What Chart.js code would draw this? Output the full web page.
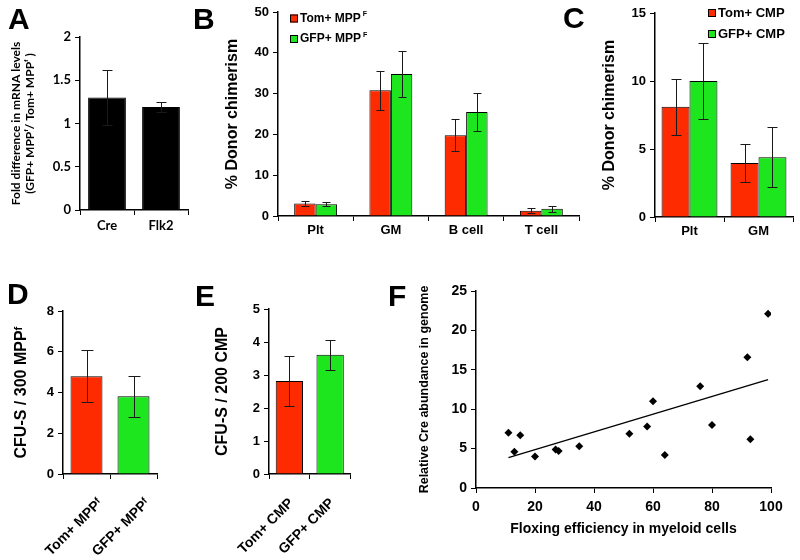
<!DOCTYPE html>
<html>
<head>
<meta charset="utf-8">
<script src="https://cdn.jsdelivr.net/npm/chart.js@4.4.0/dist/chart.umd.min.js"></script>
<style>
  html, body { margin:0; padding:0; background:#fff; }
  body { width:800px; height:560px; position:relative; overflow:hidden; }
  canvas { position:absolute; }
  .lbl { position:absolute; font-family:"Liberation Sans", Arial, sans-serif; font-weight:bold; font-size:30px; line-height:30px; color:#000; }
</style>
</head>
<body>
<canvas id="cA" width="200" height="260" style="left:0px;top:0px"></canvas>
<canvas id="cB" width="395" height="260" style="left:190px;top:0px"></canvas>
<canvas id="cC" width="215" height="260" style="left:585px;top:0px"></canvas>
<canvas id="cD" width="170" height="295" style="left:0px;top:265px"></canvas>
<canvas id="cE" width="190" height="295" style="left:170px;top:265px"></canvas>
<canvas id="cF" width="440" height="295" style="left:360px;top:265px"></canvas>
<div class="lbl" style="left:8px;top:4px">A</div>
<div class="lbl" style="left:193px;top:4px">B</div>
<div class="lbl" style="left:563px;top:3px">C</div>
<div class="lbl" style="left:7px;top:279px">D</div>
<div class="lbl" style="left:195px;top:281px">E</div>
<div class="lbl" style="left:388px;top:281px">F</div>
<script>
// ---------------- DATA ----------------
// Panel A
const aCategories = ['Cre', 'Flk2'];
const aValues = [1.3, 1.19];
const aErrors = [0.32, 0.06];

// Panel B
const bCategories = ['Plt', 'GM', 'B cell', 'T cell'];
const bSeries = ['Tom+ MPP', 'GFP+ MPP'];
const bTom = [3.05, 30.8, 19.8, 1.3];
const bTomErr = [0.7, 4.7, 3.9, 0.65];
const bGfp = [2.9, 34.8, 25.5, 1.8];
const bGfpErr = [0.55, 5.7, 4.6, 0.75];

// Panel C
const cCategories = ['Plt', 'GM'];
const cSeries = ['Tom+ CMP', 'GFP+ CMP'];
const cTom = [8.1, 3.97];
const cTomErr = [2.05, 1.4];
const cGfp = [10.0, 4.39];
const cGfpErr = [2.8, 2.2];

// Panel D
const dCategories = ['Tom+ MPP\u1DA0', 'GFP+ MPP\u1DA0'];
const dValues = [4.8, 3.82];
const dErrors = [1.27, 1.01];

// Panel E
const eCategories = ['Tom+ CMP', 'GFP+ CMP'];
const eValues = [2.82, 3.61];
const eErrors = [0.75, 0.45];

// Panel F
const fX = [11, 13, 15, 20, 27, 28, 35, 52, 58, 60, 64, 76, 80, 92, 93, 99];
const fY = [7.0, 4.6, 6.7, 4.0, 4.9, 4.7, 5.3, 6.9, 7.8, 11.0, 4.2, 12.9, 8.0, 16.6, 6.2, 22.1];
const fTrendX = [11, 99];
const fTrendY = [3.85, 13.75];

// ---------------- STYLE ----------------
const RED = '#FF2B00';
const GREEN = '#1EE61E';
const ARIAL = '"Liberation Sans", Arial, sans-serif';
const CALIBRI = 'Lato, "Open Sans", sans-serif';

const errorBars = {
  id: 'errorBars',
  afterDatasetsDraw(chart, args, o) {
    const ctx = chart.ctx;
    const y = chart.scales.y;
    const cap = (o && o.cap) || 4;
    chart.data.datasets.forEach((ds, di) => {
      if (!ds.errors) return;
      const meta = chart.getDatasetMeta(di);
      meta.data.forEach((bar, i) => {
        const v = ds.data[i], e = ds.errors[i];
        const top = Math.round(y.getPixelForValue(v + e)) + 0.5;
        const bot = Math.round(y.getPixelForValue(v - e)) + 0.5;
        const x = Math.round(bar.x) + 0.5;
        ctx.save();
        ctx.strokeStyle = '#1a1a1a';
        ctx.lineWidth = 1;
        ctx.beginPath();
        ctx.moveTo(x, top); ctx.lineTo(x, bot);
        ctx.moveTo(x - cap, top); ctx.lineTo(x + cap, top);
        ctx.moveTo(x - cap, bot); ctx.lineTo(x + cap, bot);
        ctx.stroke();
        ctx.restore();
      });
    });
  }
};

const boxLegend = {
  id: 'boxLegend',
  afterDraw(chart, args, o) {
    if (!o || !o.rows) return;
    const ctx = chart.ctx;
    chart.data.datasets.forEach((ds, i) => {
      const yc = o.rows[i];
      const s = o.size;
      ctx.save();
      ctx.fillStyle = ds.backgroundColor;
      ctx.fillRect(o.x, yc - s / 2, s, s);
      ctx.strokeStyle = '#000';
      ctx.lineWidth = 1;
      ctx.strokeRect(o.x + 0.5, yc - s / 2 + 0.5, s - 1, s - 1);
      ctx.font = 'bold ' + o.fontSize + 'px ' + ARIAL;
      ctx.fillStyle = '#000';
      ctx.textBaseline = 'middle';
      ctx.textAlign = 'left';
      const tx = o.x + s + o.gap;
      ctx.fillText(ds.label, tx, yc);
      if (o.sup) {
        const w = ctx.measureText(ds.label).width;
        ctx.font = 'bold ' + Math.round(o.fontSize * 0.62) + 'px ' + ARIAL;
        ctx.fillText(o.sup, tx + w + 2, yc - o.fontSize * 0.33);
      }
      ctx.restore();
    });
  }
};

function yAxis(p) {
  return {
    min: p.min, max: p.max,
    ticks: { stepSize: p.step, color: '#000', padding: 4, callback: v => String(v),
             font: { family: p.family || ARIAL, size: p.tickSize || 13, weight: 'bold' } },
    grid: { display: true, drawOnChartArea: false, drawTicks: true, tickLength: 5, color: '#000', lineWidth: 1 },
    border: { display: true, color: '#000', width: 1.5 },
    title: { display: true, text: p.title, color: '#000',
             font: { family: p.family || ARIAL, size: p.titleSize, weight: 'bold', lineHeight: p.lineHeight || 1.2 },
             padding: { top: p.titlePad, bottom: 0 } },
    afterFit(s) { s.width = p.width; }
  };
}

function xCat(p) {
  return {
    ticks: { color: '#000', padding: p.pad || 2, labelOffset: p.labelOffset || 0,
             minRotation: p.rot || 0, maxRotation: p.rot || 0, autoSkip: false,
             font: { family: p.family || ARIAL, size: p.size || 13, weight: 'bold' } },
    grid: { display: true, drawOnChartArea: false, drawTicks: true, tickLength: 5, color: '#000', lineWidth: 1, offset: true },
    border: { display: true, color: '#000', width: 1.5 },
    afterFit(s) { s.height = p.height; }
  };
}

function baseOpts(pad) {
  return {
    responsive: false, animation: false, devicePixelRatio: 1,
    layout: { padding: pad, autoPadding: false },
    plugins: { legend: { display: false }, tooltip: { enabled: false } }
  };
}

// ---------------- A ----------------
(function () {
  const o = baseOpts({ top: 37, right: 12, left: 0, bottom: 0 });
  o.scales = {
    x: xCat({ height: 50, family: CALIBRI, size: 13, pad: 3 }),
    y: yAxis({ min: 0, max: 2, step: 0.5, width: 80, family: CALIBRI, tickSize: 13,
               title: ['Fold difference in mRNA levels', '(GFP+ MPP\u1DA0/ Tom+ MPP\u1DA0 )'],
               titleSize: 12, lineHeight: 1.15, titlePad: 9 })
  };
  o.plugins.errorBars = { cap: 5 };
  new Chart(document.getElementById('cA'), {
    type: 'bar',
    data: { labels: aCategories, datasets: [{ data: aValues, errors: aErrors,
      backgroundColor: '#000', borderColor: '#000', borderWidth: 1,
      barPercentage: 0.7, categoryPercentage: 1 }] },
    options: o, plugins: [errorBars]
  });
})();

// ---------------- B ----------------
(function () {
  const o = baseOpts({ top: 12, right: 6, left: 0, bottom: 0 });
  o.scales = {
    x: xCat({ height: 44, size: 13, pad: 2 }),
    y: yAxis({ min: 0, max: 50, step: 10, width: 88, title: '% Donor chimerism', titleSize: 16, titlePad: 33 })
  };
  o.plugins.errorBars = { cap: 4 };
  o.plugins.boxLegend = { x: 100, rows: [18.5, 39], size: 8, gap: 2, fontSize: 12, sup: 'F' };
  new Chart(document.getElementById('cB'), {
    type: 'bar',
    data: { labels: bCategories, datasets: [
      { label: bSeries[0], data: bTom, errors: bTomErr, backgroundColor: RED, borderColor: '#000', borderWidth: 1,
        barPercentage: 1, categoryPercentage: 0.57 },
      { label: bSeries[1], data: bGfp, errors: bGfpErr, backgroundColor: GREEN, borderColor: '#000', borderWidth: 1,
        barPercentage: 1, categoryPercentage: 0.57 }
    ] },
    options: o, plugins: [errorBars, boxLegend]
  });
})();

// ---------------- C ----------------
(function () {
  const o = baseOpts({ top: 13, right: 7, left: 0, bottom: 0 });
  o.scales = {
    x: xCat({ height: 43, size: 13, pad: 2 }),
    y: yAxis({ min: 0, max: 15, step: 5, width: 70, title: '% Donor chimerism', titleSize: 16, titlePad: 15 })
  };
  o.plugins.errorBars = { cap: 5 };
  o.plugins.boxLegend = { x: 123, rows: [13, 34], size: 8, gap: 2, fontSize: 13 };
  new Chart(document.getElementById('cC'), {
    type: 'bar',
    data: { labels: cCategories, datasets: [
      { label: cSeries[0], data: cTom, errors: cTomErr, backgroundColor: RED, borderColor: '#000', borderWidth: 1,
        barPercentage: 1, categoryPercentage: 0.81 },
      { label: cSeries[1], data: cGfp, errors: cGfpErr, backgroundColor: GREEN, borderColor: '#000', borderWidth: 1,
        barPercentage: 1, categoryPercentage: 0.81 }
    ] },
    options: o, plugins: [errorBars, boxLegend]
  });
})();

// ---------------- D ----------------
(function () {
  const o = baseOpts({ top: 46, right: 13, left: 0, bottom: 0 });
  o.scales = {
    x: xCat({ height: 86, size: 14, pad: 16, rot: 45, labelOffset: 14 }),
    y: yAxis({ min: 0, max: 8, step: 2, width: 63, title: 'CFU-S / 300 MPP\u1DA0', titleSize: 16, titlePad: 12 })
  };
  o.plugins.errorBars = { cap: 6 };
  new Chart(document.getElementById('cD'), {
    type: 'bar',
    data: { labels: dCategories, datasets: [{ data: dValues, errors: dErrors,
      backgroundColor: [RED, GREEN], borderColor: '#000', borderWidth: 1,
      barPercentage: 0.68, categoryPercentage: 1 }] },
    options: o, plugins: [errorBars]
  });
})();

// ---------------- E ----------------
(function () {
  const o = baseOpts({ top: 44, right: 8, left: 0, bottom: 0 });
  o.scales = {
    x: xCat({ height: 86, size: 14, pad: 16, rot: 45, labelOffset: 2 }),
    y: yAxis({ min: 0, max: 5, step: 1, width: 99, title: 'CFU-S / 200 CMP', titleSize: 16, titlePad: 43 })
  };
  o.plugins.errorBars = { cap: 5 };
  new Chart(document.getElementById('cE'), {
    type: 'bar',
    data: { labels: eCategories, datasets: [{ data: eValues, errors: eErrors,
      backgroundColor: [RED, GREEN], borderColor: '#000', borderWidth: 1,
      barPercentage: 0.67, categoryPercentage: 1 }] },
    options: o, plugins: [errorBars]
  });
})();

// ---------------- F ----------------
(function () {
  const o = baseOpts({ top: 26, right: 29, left: 0, bottom: 0 });
  o.scales = {
    x: {
      type: 'linear', min: 0, max: 100,
      ticks: { stepSize: 20, color: '#000', padding: 6, font: { family: ARIAL, size: 14, weight: 'bold' } },
      grid: { display: true, drawOnChartArea: false, drawTicks: true, tickLength: 5, color: '#000', lineWidth: 1 },
      border: { display: true, color: '#000', width: 1.5 },
      title: { display: true, text: 'Floxing efficiency in myeloid cells', color: '#000',
               font: { family: ARIAL, size: 14, weight: 'bold' }, padding: { top: 0, bottom: 22 } },
      afterFit(s) { s.height = 72; }
    },
    y: yAxis({ min: 0, max: 25, step: 5, width: 116, tickSize: 14, title: 'Relative Cre abundance in genome', titleSize: 12.5, titlePad: 57 })
  };
  new Chart(document.getElementById('cF'), {
    type: 'scatter',
    data: { datasets: [
      { data: fX.map((x, i) => ({ x: x, y: fY[i] })), pointStyle: 'rectRot', pointRadius: 4,
        backgroundColor: '#000', borderColor: '#000', borderWidth: 0 },
      { type: 'line', data: fTrendX.map((x, i) => ({ x: x, y: fTrendY[i] })), showLine: true,
        borderColor: '#000', borderWidth: 1.3, pointRadius: 0, fill: false }
    ] },
    options: o
  });
})();
</script>
</body>
</html>
